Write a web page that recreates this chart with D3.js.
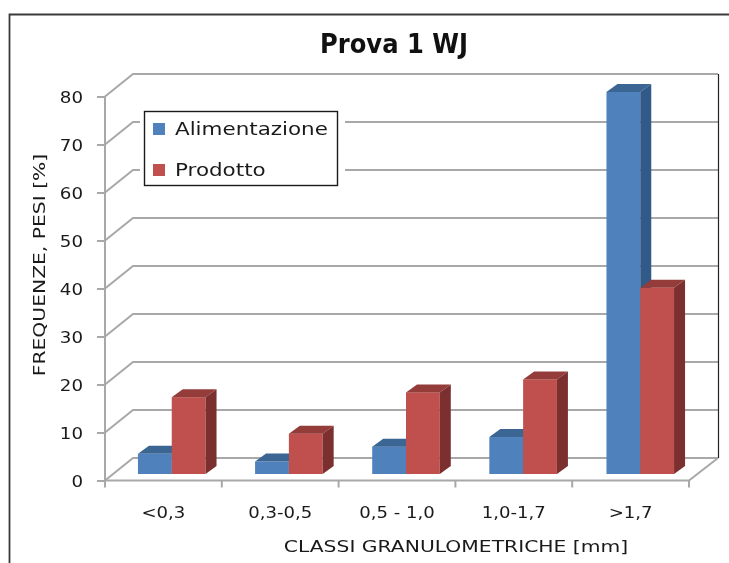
<!DOCTYPE html>
<html><head><meta charset="utf-8">
<script src="https://cdn.jsdelivr.net/npm/d3@7"></script>
<style>html,body{margin:0;padding:0;background:#fff}svg{display:block;filter:blur(0.4px)}text{font-family:"DejaVu Sans",sans-serif}</style>
</head><body><svg id="c" width="729" height="563"></svg>
<script>
const categories = ["<0,3","0,3-0,5","0,5 - 1,0","1,0-1,7",">1,7"];
const seriesNames = ["Alimentazione","Prodotto"];
const alimentazione = [4.2,2.6,5.7,7.7,79.6];
const prodotto = [16,8.4,17,19.7,38.8];
const yTicks = [0,10,20,30,40,50,60,70,80];
const colFront = ["#4f81bd","#c0504d"];
const colTop = ["#3b6593","#943c3a"];
const colSide = ["#325a88","#7b2f2e"];

const svg = d3.select("#c");
const xTick = d3.scaleBand().domain(categories).range([105,689]);
const x = d3.scaleBand().domain(categories).range([105,691]).paddingInner(0.423).paddingOuter(0.213);
const xs = d3.scaleBand().domain(seriesNames).range([0,x.bandwidth()]);
const y = d3.scaleLinear().domain([0,80]).range([480.5,96.5]);
const wallDx = 28, wallDy = -22.5, baseDx = 8, baseDy = -6.5, barDx = 11, barDy = -8;
const gray = "#a8a8a8";
const stretch = (px,py,k,rot) => `translate(${px},${py})${rot?` rotate(${rot})`:""} scale(${k},1)`;

// frame
svg.append("path").attr("d","M9.5,563V14.5H729").attr("fill","none").attr("stroke","#3a3a3a").attr("stroke-width",1.8);

// walls
const grid = svg.append("g").attr("fill","none").attr("stroke",gray).attr("stroke-width",2);
yTicks.forEach(t=>{
  grid.append("path").attr("d",`M${105},${y(t)}L${105+wallDx},${y(t)+wallDy}H${718}`);
});
grid.append("path").attr("d",`M105,${y(80)}V${y(0)}H689L${718},${y(0)+wallDy}`);
svg.append("line").attr("x1",718.5).attr("x2",718.5).attr("y1",y(80)+wallDy).attr("y2",y(0)+wallDy).attr("stroke","#222").attr("stroke-width",1.2);

// axes
const yAxis = d3.axisLeft(y).tickValues(yTicks).tickSize(8);
const gy = svg.append("g").attr("transform","translate(105,0)").call(yAxis);
gy.select(".domain").remove();
gy.selectAll("line").attr("stroke",gray).attr("stroke-width",2);
gy.selectAll("text").attr("font-size",16).attr("fill","#1a1a1a").attr("font-family","DejaVu Sans")
  .attr("x",0).attr("transform",stretch(-22,1,1.14));

const gx = svg.append("g").attr("transform","translate(0,480.5)");
d3.range(categories.length+1).forEach(i=>{
  const px = 105 + i*xTick.step();
  gx.append("line").attr("x1",px).attr("x2",px).attr("y1",0).attr("y2",7).attr("stroke",gray).attr("stroke-width",2);
});
categories.forEach(c=>{
  gx.append("text").attr("transform",stretch(xTick(c)+xTick.bandwidth()/2,37,1.13)).attr("text-anchor","middle")
    .attr("font-size",16).attr("fill","#1a1a1a").text(c);
});

// bars
[alimentazione,prodotto].forEach((vals,s)=>{
  const g = svg.append("g");
  vals.forEach((v,i)=>{
    const x0 = x(categories[i])+xs(seriesNames[s])+baseDx, x1 = x0+xs.bandwidth();
    const yb = y(0)+baseDy, yt = y(v)+baseDy;
    g.append("rect").attr("x",x0).attr("y",yt).attr("width",x1-x0).attr("height",yb-yt).attr("fill",colFront[s]);
    g.append("path").attr("d",`M${x0},${yt}l${barDx},${barDy}H${x1+barDx}L${x1},${yt}Z`).attr("fill",colTop[s]);
    g.append("path").attr("d",`M${x1},${yt}l${barDx},${barDy}V${yb+barDy}L${x1},${yb}Z`).attr("fill",colSide[s]);
  });
});

// legend
svg.append("rect").attr("x",140).attr("y",107).attr("width",205).attr("height",82).attr("fill","#fff");
svg.append("rect").attr("x",144.5).attr("y",111.5).attr("width",193).attr("height",74).attr("fill","#fff").attr("stroke","#1a1a1a").attr("stroke-width",1.4);
seriesNames.forEach((n,i)=>{
  const ly = 129 + i*41;
  svg.append("rect").attr("x",153).attr("y",ly-6).attr("width",12).attr("height",12).attr("fill",colFront[i]);
  svg.append("text").attr("transform",stretch(175,ly+6,1.16)).attr("font-size",18.5).attr("fill","#1a1a1a").text(n);
});

// titles
svg.append("text").attr("x",394).attr("y",53).attr("text-anchor","middle").attr("font-family","Open Sans").attr("font-weight",700).attr("font-size",27).attr("textLength",148).attr("lengthAdjust","spacingAndGlyphs").attr("fill","#111").text("Prova 1 WJ");
svg.append("text").attr("transform",stretch(456,551.5,1.27)).attr("text-anchor","middle").attr("font-size",16).attr("fill","#1a1a1a").text("CLASSI GRANULOMETRICHE [mm]");
svg.append("text").attr("transform","translate(45,265) rotate(-90) scale(1.27,1)").attr("text-anchor","middle").attr("font-size",16).attr("fill","#1a1a1a").text("FREQUENZE, PESI [%]");
</script></body></html>
